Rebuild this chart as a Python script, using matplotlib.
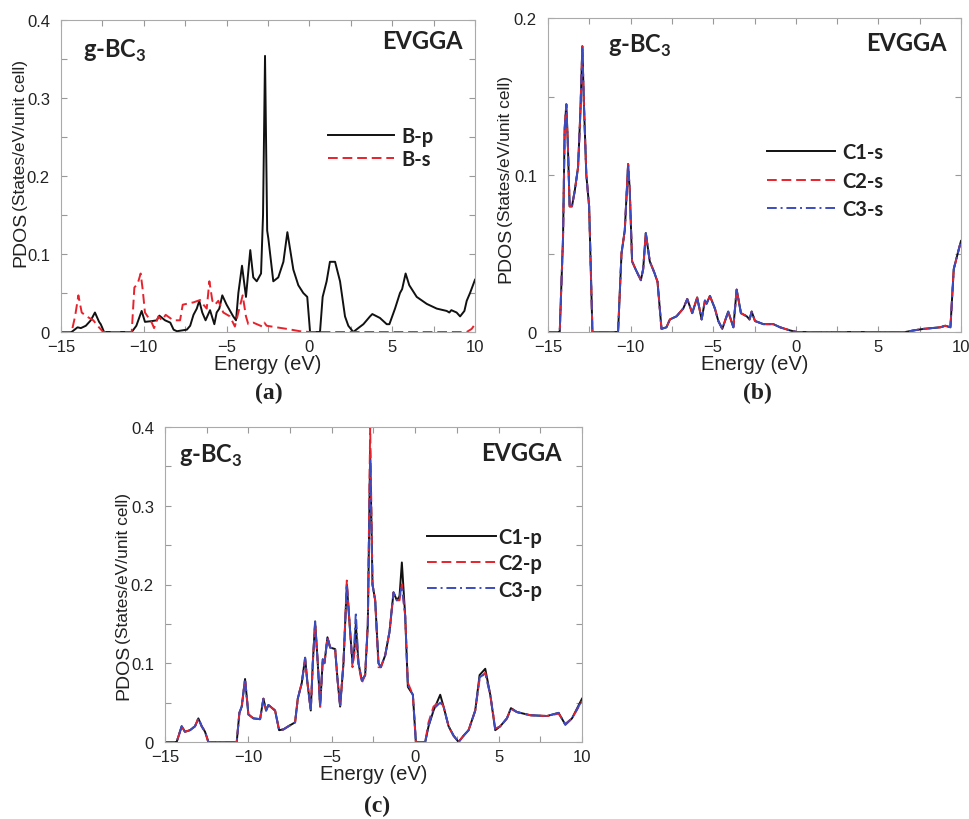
import matplotlib
matplotlib.use("Agg")
import matplotlib.pyplot as plt
from matplotlib.ticker import MultipleLocator, FuncFormatter

plt.rcParams['font.family'] = ['Liberation Sans', 'DejaVu Sans']
plt.rcParams['mathtext.fontset'] = 'custom'
plt.rcParams['mathtext.bf'] = 'Lato:bold'
plt.rcParams['mathtext.rm'] = 'Lato'

# === (a) boron PDOS ===
bp_e = [-15, -14.36, -14.0, -13.8, -13.5, -13.2, -12.95, -12.7, -12.6, -12.4,
        -10.73, -10.45, -10.13, -9.93, -9.5, -9.22, -9.06, -8.72, -8.4, -8.2,
        -8.0, -7.4, -7.2, -7.0, -6.8, -6.65, -6.47, -6.27, -6.0, -5.74,
        -5.6, -5.44, -5.26, -5.0, -4.6, -4.43, -4.29, -4.07, -3.83, -3.57,
        -3.39, -3.18, -2.92, -2.8, -2.68, -2.55, -2.48, -2.18, -1.88, -1.57,
        -1.33, -0.97, -0.67, -0.37, -0.13, 0.04, 0.64, 0.8, 1.04, 1.24,
        1.55, 1.85, 2.15, 2.35, 2.65, 2.95, 3.26, 3.66, 3.8, 4.26,
        4.67, 4.83, 5.17, 5.47, 5.6, 5.81, 6.03, 6.48, 7.09, 7.69,
        8.29, 8.45, 8.57, 8.89, 9.1, 9.36, 9.5, 9.7, 10]
bp_v = [0, 0, 0.006, 0.005, 0.008, 0.015, 0.025, 0.013, 0.01, 0,
        0, 0.008, 0.027, 0.013, 0.014, 0.015, 0.021, 0.015, 0.012, 0.003,
        0.001, 0.003, 0.008, 0.022, 0.03, 0.04, 0.025, 0.015, 0.028, 0.01,
        0.025, 0.03, 0.047, 0.035, 0.02, 0.015, 0.05, 0.085, 0.045, 0.105,
        0.07, 0.065, 0.075, 0.15, 0.354, 0.13, 0.12, 0.065, 0.07, 0.09,
        0.128, 0.08, 0.06, 0.05, 0.045, 0, 0, 0.045, 0.065, 0.09,
        0.09, 0.065, 0.02, 0.008, 0, 0.005, 0.01, 0.02, 0.023, 0.018,
        0.01, 0.01, 0.03, 0.05, 0.055, 0.075, 0.06, 0.045, 0.036, 0.03,
        0.027, 0.025, 0.028, 0.025, 0.02, 0.027, 0.04, 0.05, 0.067]

bs_e = [-15, -14.36, -14.15, -13.95, -13.75, -13.45, -13.05, -12.75, -12.45,
        -10.73, -10.57, -10.37, -10.19, -10.07, -9.93, -9.52, -9.38, -9.12, -8.9, -8.68,
        -8.22, -7.81, -7.65, -7.0, -6.6, -6.4, -6.2, -6.04, -5.86, -5.7,
        -5.5, -5.2, -4.8, -4.5, -4.29, -4.03, -3.83, -3.69, -3.39, -2.84,
        -2.72, -2.58, -1.98, -1.37, -0.57, 0, 9.5, 9.8, 10]
bs_v = [0, 0, 0.02, 0.047, 0.025, 0.02, 0.015, 0.007, 0,
        0, 0.057, 0.062, 0.075, 0.055, 0.025, 0.012, 0.005, 0.02, 0.015, 0.022,
        0.015, 0.015, 0.035, 0.038, 0.041, 0.035, 0.03, 0.065, 0.04, 0.035,
        0.04, 0.025, 0.02, 0.007, 0.025, 0.047, 0.02, 0.01, 0.012, 0.007,
        0.012, 0.008, 0.006, 0.004, 0.001, 0, 0, 0.004, 0.01]

# === (b) carbon s PDOS (C1, C2, C3 lie on top of each other) ===
cs_e = [-15, -14.29, -14.09, -13.99, -13.89, -13.8, -13.69, -13.55, -13.38, -13.18,
        -13.04, -12.92, -12.84, -12.68, -12.51, -12.31, -10.76, -10.55, -10.35, -10.15,
        -10.05, -9.91, -9.7, -9.38, -9.24, -9.08, -8.84, -8.57, -8.37, -8.13,
        -7.83, -7.62, -7.22, -6.81, -6.57, -6.27, -5.97, -5.7, -5.5, -5.4,
        -5.2, -4.9, -4.69, -4.45, -4.09, -3.78, -3.58, -3.32, -2.97, -2.8,
        -2.67, -2.47, -1.96, -1.36, -0.95, -0.35, 0.06, 6.63, 7.13, 7.74,
        8.75, 9.05, 9.36, 9.56, 9.8, 10]
cs_v = [0, 0, 0.06, 0.13, 0.145, 0.12, 0.08, 0.08, 0.09, 0.105,
        0.14, 0.182, 0.15, 0.1, 0.08, 0, 0, 0.05, 0.065, 0.107,
        0.09, 0.045, 0.04, 0.033, 0.04, 0.063, 0.045, 0.038, 0.032, 0.002,
        0.003, 0.008, 0.01, 0.015, 0.021, 0.012, 0.022, 0.008, 0.02, 0.018,
        0.023, 0.015, 0.007, 0.002, 0.013, 0.003, 0.027, 0.012, 0.01, 0.008,
        0.013, 0.007, 0.005, 0.005, 0.003, 0.001, 0, 0, 0.001, 0.002,
        0.003, 0.004, 0.003, 0.04, 0.05, 0.058]

# === (c) carbon p PDOS ===
cp_e = [-15, -14.3, -14.0, -13.8, -13.5, -13.2, -13.0, -12.8, -12.6, -12.4,
        -10.7, -10.54, -10.4, -10.2, -10.0, -9.7, -9.3, -9.1, -8.94, -8.8,
        -8.4, -8.16, -7.9, -7.6, -7.2, -7.04, -6.8, -6.6, -6.46, -6.26,
        -6.14, -6.0, -5.84, -5.7, -5.54, -5.44, -5.26, -5.1, -4.8, -4.66,
        -4.5, -4.3, -4.1, -3.9, -3.76, -3.66, -3.56, -3.4, -3.2, -3.0,
        -2.84, -2.7, -2.56, -2.4, -2.2, -2.06, -1.8, -1.54, -1.3, -1.1,
        -0.94, -0.8, -0.6, -0.44, -0.14, 0.04, 0.6, 0.8, 1.1, 1.5,
        1.7, 2.0, 2.3, 2.6, 2.9, 3.2, 3.6, 3.86, 4.2, 4.5,
        4.8, 5.1, 5.5, 5.74, 6.1, 6.9, 7.9, 8.6, 9.0, 9.4, 10]
c1_p = [0, 0, 0.02, 0.013, 0.015, 0.02, 0.03, 0.02, 0.013, 0,
        0, 0.037, 0.045, 0.08, 0.035, 0.03, 0.029, 0.055, 0.04, 0.047,
        0.04, 0.015, 0.016, 0.02, 0.025, 0.055, 0.075, 0.107, 0.075, 0.04,
        0.1, 0.153, 0.1, 0.045, 0.105, 0.1, 0.133, 0.12, 0.118, 0.08,
        0.045, 0.1, 0.2, 0.14, 0.1, 0.115, 0.15, 0.1, 0.078, 0.085,
        0.15, 0.37, 0.2, 0.18, 0.1, 0.095, 0.11, 0.14, 0.19, 0.18,
        0.185, 0.228, 0.16, 0.07, 0.06, 0, 0, 0.02, 0.04, 0.06,
        0.045, 0.02, 0.008, 0, 0.008, 0.015, 0.04, 0.085, 0.093, 0.06,
        0.015, 0.02, 0.03, 0.043, 0.038, 0.034, 0.033, 0.037, 0.022, 0.03, 0.055]
c2_p = [0, 0, 0.02, 0.013, 0.015, 0.02, 0.03, 0.02, 0.013, 0,
        0, 0.037, 0.045, 0.08, 0.035, 0.03, 0.029, 0.055, 0.04, 0.047,
        0.04, 0.015, 0.016, 0.02, 0.025, 0.055, 0.075, 0.105, 0.075, 0.04,
        0.1, 0.15, 0.1, 0.045, 0.105, 0.1, 0.133, 0.12, 0.118, 0.08,
        0.045, 0.1, 0.205, 0.14, 0.095, 0.11, 0.125, 0.1, 0.075, 0.085,
        0.15, 0.40, 0.2, 0.18, 0.095, 0.095, 0.11, 0.14, 0.19, 0.18,
        0.18, 0.2, 0.16, 0.075, 0.06, 0, 0, 0.025, 0.045, 0.052,
        0.045, 0.02, 0.008, 0, 0.008, 0.015, 0.04, 0.08, 0.088, 0.06,
        0.017, 0.02, 0.03, 0.042, 0.038, 0.034, 0.033, 0.036, 0.023, 0.03, 0.052]
c3_p = [0, 0, 0.02, 0.013, 0.015, 0.02, 0.03, 0.02, 0.013, 0,
        0, 0.037, 0.045, 0.08, 0.035, 0.03, 0.029, 0.055, 0.04, 0.047,
        0.04, 0.015, 0.016, 0.02, 0.025, 0.055, 0.075, 0.107, 0.075, 0.04,
        0.1, 0.153, 0.1, 0.045, 0.105, 0.1, 0.133, 0.12, 0.118, 0.08,
        0.045, 0.1, 0.2, 0.14, 0.1, 0.12, 0.165, 0.1, 0.078, 0.085,
        0.15, 0.36, 0.2, 0.18, 0.1, 0.095, 0.11, 0.14, 0.19, 0.18,
        0.185, 0.198, 0.16, 0.072, 0.06, 0, 0, 0.02, 0.042, 0.05,
        0.045, 0.02, 0.008, 0, 0.008, 0.015, 0.04, 0.082, 0.087, 0.06,
        0.016, 0.02, 0.03, 0.043, 0.038, 0.034, 0.033, 0.037, 0.022, 0.03, 0.053]

RED = '#e8222c'
BLUE = '#3b4cc0'
BLACK = '#111111'
LW = 1.4

fig = plt.figure(figsize=(9.69, 8.2), dpi=100)
W, H = 969.0, 820.0


def px_axes(x0, y0, x1, y1):
    # axes from pixel box (top-left origin)
    return fig.add_axes([x0 / W, 1 - y1 / H, (x1 - x0) / W, (y1 - y0) / H])


def setup(ax, ymax):
    ax.set_xlim(-15, 10)
    ax.set_ylim(0, ymax)
    ax.xaxis.set_major_locator(MultipleLocator(5))
    ax.xaxis.set_minor_locator(MultipleLocator(2.5))
    ax.yaxis.set_major_locator(MultipleLocator(0.1))
    ax.yaxis.set_minor_locator(MultipleLocator(0.05))
    ax.yaxis.set_major_formatter(FuncFormatter(lambda v, p: '0' if abs(v) < 1e-9 else f'{v:.1f}'))
    ax.tick_params(which='both', direction='in', top=True, right=True, length=4,
                   width=0.8, color='#999999', labelsize=12, labelcolor='#222222')
    ax.tick_params(axis='x', pad=5)
    ax.tick_params(axis='y', pad=8)
    for s in ax.spines.values():
        s.set_color('#aaaaaa')
        s.set_linewidth(0.8)
    ax.set_xlabel('Energy (eV)', fontsize=14.5, labelpad=0, color='#222222')


def pdos_label(xpx, ypx):
    r = fig.canvas.get_renderer()
    t1 = fig.text(xpx / W, 1 - ypx / H, 'PDOS', rotation=90, rotation_mode='anchor',
                  ha='left', va='baseline', fontsize=14, color='#222222')
    bb = t1.get_window_extent(renderer=r)
    fig.text(xpx / W, (bb.y1 + 1) / fig.bbox.height, '(States/eV/unit cell)', rotation=90,
             rotation_mode='anchor', ha='left', va='baseline', fontsize=12.5, color='#222222')


def tags(ax, gx, gy, ex, ey):
    ax.text(gx, gy, 'g-BC$_\\mathbf{3}$', transform=ax.transAxes, fontsize=17,
            fontfamily='Lato', fontweight='bold', color='#222222', ha='left', va='baseline')
    ax.text(ex, ey, 'EVGGA', transform=ax.transAxes, fontsize=17,
            fontfamily='Lato', fontweight='bold', color='#222222', ha='right', va='baseline')


def legend(ax, x, y, hl, pad, spacing):
    leg = ax.legend(loc='center left', bbox_to_anchor=(x, y), frameon=False,
                    borderpad=0, borderaxespad=0, handlelength=hl, handletextpad=pad,
                    labelspacing=spacing, prop={'family': 'Lato', 'weight': 'bold', 'size': 14.5})
    for t in leg.get_texts():
        t.set_color('#222222')


# (a)
ax_a = px_axes(61, 21, 475, 333)
setup(ax_a, 0.4)
ax_a.plot(bp_e, bp_v, color=BLACK, lw=LW, label='B-p')
ax_a.plot(bs_e, bs_v, color=RED, lw=LW, dashes=(5, 2.5), label='B-s')
tags(ax_a, 0.053, 0.881, 0.969, 0.910)
legend(ax_a, 0.645, 0.59, 3.3, 0.36, 0.15)

# (b)
ax_b = px_axes(548, 19, 961, 333)
setup(ax_b, 0.2)
ax_b.plot(cs_e, cs_v, color=BLACK, lw=LW, label='C1-s')
ax_b.plot(cs_e, cs_v, color=RED, lw=LW, dashes=(5, 2.5), label='C2-s')
ax_b.plot(cs_e, cs_v, color=BLUE, lw=LW, dashes=(5, 2, 1, 2), label='C3-s')
tags(ax_b, 0.145, 0.892, 0.964, 0.898)
legend(ax_b, 0.530, 0.482, 3.4, 0.36, 0.42)

# (c)
ax_c = px_axes(165, 428, 582, 743)
setup(ax_c, 0.4)
ax_c.plot(cp_e, c1_p, color=BLACK, lw=LW, label='C1-p')
ax_c.plot(cp_e, c2_p, color=RED, lw=LW, dashes=(5, 2.5), label='C2-p')
ax_c.plot(cp_e, c3_p, color=BLUE, lw=LW, dashes=(5, 2, 1, 2), label='C3-p')
tags(ax_c, 0.034, 0.889, 0.952, 0.895)
legend(ax_c, 0.628, 0.568, 3.45, 0.1, 0.32)

pdos_label(25, 267)
pdos_label(510, 283)
pdos_label(128, 700)

for lab, xp, yp in [('(a)', 269, 393), ('(b)', 757, 393), ('(c)', 377, 806)]:
    fig.text(xp / W, 1 - yp / H, lab, fontsize=17, fontweight='bold',
             fontfamily=['Liberation Serif', 'DejaVu Serif'], ha='center', va='center', color='#222222')

fig.savefig('out.png', dpi=100, facecolor='white')
